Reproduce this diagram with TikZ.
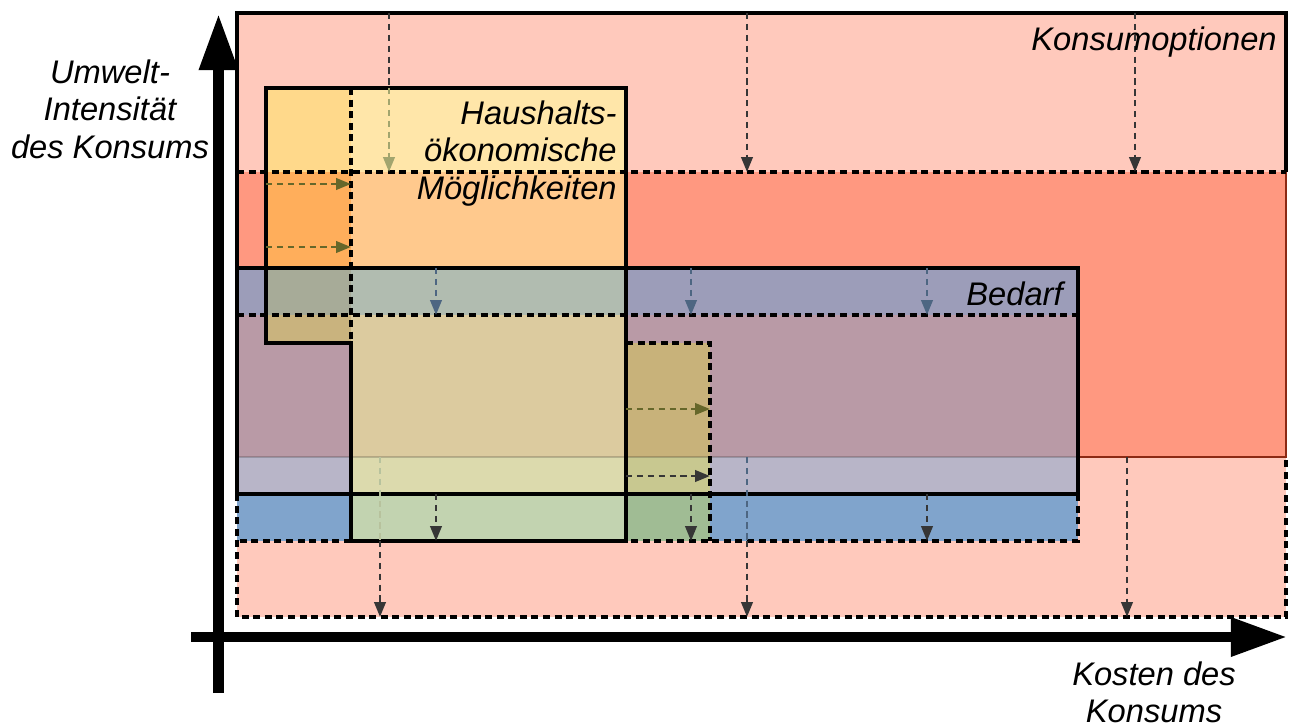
\documentclass[tikz,border=0pt]{standalone}
\usepackage{fontspec}
\setmainfont{Liberation Sans}
\usetikzlibrary{arrows.meta}
% colours of the areas
\definecolor{optlight}{HTML}{FFC9BC}
\definecolor{optdark}{HTML}{FF9880}
\definecolor{needtop}{HTML}{9C9DB9}
\definecolor{needmid}{HTML}{B99AA6}
\definecolor{needlow}{HTML}{B8B5C8}
\definecolor{needdash}{HTML}{80A4CC}
\definecolor{hhAa}{HTML}{FFD98B}
\definecolor{hhAb}{HTML}{FFAE5B}
\definecolor{hhAc}{HTML}{A7AB98}
\definecolor{hhAd}{HTML}{C9B37E}
\definecolor{hhBa}{HTML}{FFE6A9}
\definecolor{hhBb}{HTML}{FFC98D}
\definecolor{hhBc}{HTML}{B1BCB0}
\definecolor{hhBd}{HTML}{DCCB9F}
\definecolor{hhBe}{HTML}{DCDAAD}
\definecolor{hhBf}{HTML}{C2D3B0}
\definecolor{hhCd}{HTML}{C8B27A}
\definecolor{hhCe}{HTML}{C8C890}
\definecolor{hhCf}{HTML}{A0BC94}
\definecolor{edgered}{HTML}{8C2A14}
% colours of the shift arrows
\definecolor{arrowdark}{HTML}{363636}
\definecolor{arrowblue}{HTML}{4D6682}
\definecolor{arrowolive}{HTML}{66672A}
\definecolor{arrowfaded}{HTML}{A2A56E}
\definecolor{arrowpale}{HTML}{B7C29D}
\tikzset{
	solidedge/.style={line width=2pt, line join=miter},
	dashedge/.style={line width=1.8pt, dash pattern=on 4pt off 2.6pt},
	shiftline/.style={line width=1.5pt, dash pattern=on 3.6pt off 2.6pt},
	shiftarrow/.style={shiftline, -{Triangle[length=8.5pt,width=6.5pt]}},
	axisarrow/.style={line width=5.8pt, -{Triangle[length=32pt,width=21pt]}},
	areatext/.style={font=\fontsize{18.6}{21.3}\selectfont\itshape, inner sep=0pt},
}
\newcommand{\downshift}[4]{
	\draw[shiftarrow,#1] (#2,#3) -- (#2,#4);
}
\newcommand{\rightshift}[4]{
	\draw[shiftarrow,#1] (#3,#2) -- (#4,#2);
}

\begin{document}
\begin{tikzpicture}[x=0.02cm, y=-0.02cm]
				\useasboundingbox (0,0) rectangle (1289,727);
				% Konsumoptionen
				\fill[optlight] (237,13) rectangle (1286,617);
				\fill[optdark] (237,172) rectangle (1286,457);
				% Bedarf
				\fill[needtop] (237,268) rectangle (1078,315);
				\fill[needmid] (237,315) rectangle (1078,457);
				\fill[needlow] (237,457) rectangle (1078,494);
				\fill[needdash] (237,494) rectangle (1078,541);
				% Haushalt
				\fill[hhAa] (266,88) rectangle (351,172);
				\fill[hhAb] (266,172) rectangle (351,268);
				\fill[hhAc] (266,268) rectangle (351,315);
				\fill[hhAd] (266,315) rectangle (351,343);
				\fill[hhBa] (351,88) rectangle (626,172);
				\fill[hhBb] (351,172) rectangle (626,268);
				\fill[hhBc] (351,268) rectangle (626,315);
				\fill[hhBd] (351,315) rectangle (626,457);
				\fill[hhBe] (351,457) rectangle (626,494);
				\fill[hhBf] (351,494) rectangle (626,541);
				\fill[hhCd] (626,343) rectangle (710,457);
				\fill[hhCe] (626,457) rectangle (710,494);
				\fill[hhCf] (626,494) rectangle (710,541);
				% hidden edge of the options
				\draw[line width=0.8pt, black, opacity=0.18] (237,457) -- (1078,457);
				\draw[line width=1.1pt, edgered] (1286,172) -- (1286,457) -- (1078,457);
				% edges
				\draw[solidedge] (237,494) -- (237,13) -- (1286,13) -- (1286,172);
				\draw[dashedge] (237,172) -- (1286,172);
				\draw[dashedge] (237,494) -- (237,617) -- (1286,617) -- (1286,457);
				\draw[solidedge] (237,268) rectangle (1078,494);
				\draw[dashedge] (237,315) -- (1078,315);
				\draw[dashedge] (1078,494) -- (1078,541) -- (626,541);
				\draw[dashedge] (351,541) -- (237,541);
				\draw[solidedge] (266,88) -- (626,88) -- (626,541) -- (351,541) -- (351,343) -- (266,343) -- cycle;
				\draw[dashedge] (351,88) -- (351,343);
				\draw[dashedge] (626,343) -- (710,343) -- (710,541);
				% shifts of the options
				\draw[shiftline, arrowdark] (389,13) -- (389,88);
				\downshift{arrowfaded}{389}{88}{172}
				\downshift{arrowdark}{747}{13}{172}
				\downshift{arrowdark}{1135}{13}{172}
				\draw[shiftline, arrowpale] (380,457) -- (380,541);
				\downshift{arrowdark}{380}{541}{617}
				\draw[shiftline, arrowblue] (747,457) -- (747,541);
				\downshift{arrowdark}{747}{541}{617}
				\downshift{arrowdark}{1127}{457}{617}
				% shifts of the need
				\downshift{arrowblue}{436}{268}{315}
				\downshift{arrowblue}{691}{268}{315}
				\downshift{arrowblue}{927}{268}{315}
				\downshift{arrowdark}{436}{494}{541}
				\downshift{arrowdark}{691}{494}{541}
				\downshift{arrowdark}{927}{494}{541}
				% shifts of the household
				\rightshift{arrowolive}{184}{266}{351}
				\rightshift{arrowolive}{247}{266}{351}
				\rightshift{arrowolive}{409}{626}{710}
				\rightshift{arrowdark}{476}{626}{710}
				% axes
				\draw[axisarrow] (191,637) -- (1287,637);
				\draw[axisarrow] (218.5,693) -- (218.5,14);
				% texts
				\node[areatext, anchor=base east] (optionen) at (1277,50) {Konsumoptionen};
				\node[areatext, anchor=north east, align=right] (haushalt) at (617,100.5) {Haushalts-\\ökonomische\\Möglichkeiten};
				\node[areatext, anchor=base east] (bedarf) at (1063,305) {Bedarf};
				\node[areatext, anchor=north, align=center] (ylabel) at (110,59.5) {Umwelt-\\Intensität\\des Konsums};
				\node[areatext, anchor=north, align=center] (xlabel) at (1154,661) {Kosten des\\Konsums};
			\end{tikzpicture}
\end{document}
